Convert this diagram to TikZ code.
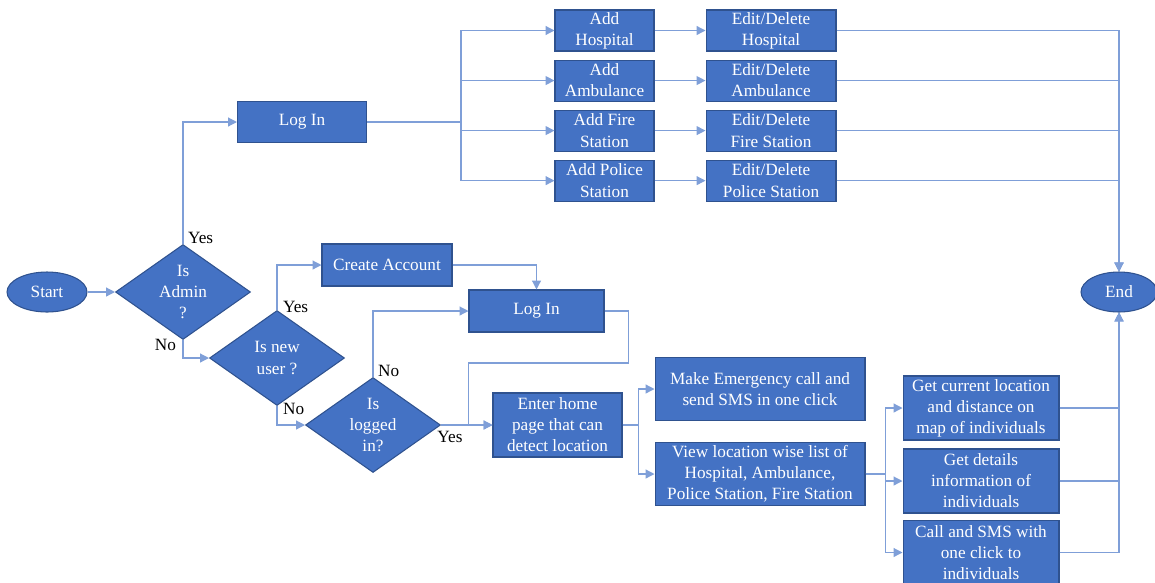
\documentclass[tikz,border=0pt]{standalone}
\usepackage{fontspec}
\setmainfont{Liberation Serif}
\usetikzlibrary{shapes.geometric,arrows.meta,positioning,calc}
\definecolor{boxblue}{HTML}{4472C4}
\definecolor{boxedge}{HTML}{2F528F}
\definecolor{wireblue}{HTML}{7F9FD8}
\tikzset{
    proc/.style={rectangle,draw=boxedge,line width=0.6pt,fill=boxblue,text=white,
                 align=center,inner sep=1pt,font=\fontsize{9.8}{12}\selectfont},
    decision/.style={diamond,draw=boxedge,line width=0.6pt,fill=boxblue,text=white,
                 align=center,inner sep=0pt,aspect=1.42,minimum width=2.7cm,
                 minimum height=1.9cm,font=\fontsize{9.8}{12}\selectfont},
    terminal/.style={ellipse,draw=boxedge,line width=0.6pt,fill=boxblue,text=white,
                 inner sep=0pt,minimum height=0.8cm,font=\fontsize{9.8}{12}\selectfont},
    lbl/.style={text=black,inner sep=1pt,font=\fontsize{9.8}{12}\selectfont},
    arrow/.style={-{Triangle[length=5pt,width=5pt]},draw=wireblue,line width=0.7pt},
}

\begin{document}
\begin{tikzpicture}[x=0.02cm,y=-0.02cm]
    \useasboundingbox (0,0) rectangle (1155,582);

    % ---- start / decisions ----
    \node[terminal, minimum width=1.6cm] (start) at (47,292) {Start};
    \node[decision] (admin)   at (183,292) {Is\\Admin\\?};
    \node[decision] (newuser) at (277,358) {Is new\\user ?};
    \node[decision] (logged)  at (373,425) {Is\\logged\\in?};

    % ---- admin branch ----
    \node[proc, minimum width=2.58cm, minimum height=0.82cm] (loginA) at (302,122) {Log In};
    \node[proc, minimum width=1.98cm, minimum height=0.82cm] (addH) at (604.5,30.5) {Add\\Hospital};
    \node[proc, minimum width=1.98cm, minimum height=0.82cm, below=0.16cm of addH] (addA) {Add\\Ambulance};
    \node[proc, minimum width=1.98cm, minimum height=0.82cm, below=0.16cm of addA] (addF) {Add Fire\\Station};
    \node[proc, minimum width=1.98cm, minimum height=0.82cm, below=0.16cm of addF] (addP) {Add Police\\Station};
    \node[proc, minimum width=2.6cm, minimum height=0.82cm, right=1.02cm of addH] (editH) {Edit/Delete\\Hospital};
    \node[proc, minimum width=2.6cm, minimum height=0.82cm, right=1.02cm of addA] (editA) {Edit/Delete\\Ambulance};
    \node[proc, minimum width=2.6cm, minimum height=0.82cm, right=1.02cm of addF] (editF) {Edit/Delete\\Fire Station};
    \node[proc, minimum width=2.6cm, minimum height=0.82cm, right=1.02cm of addP] (editP) {Edit/Delete\\Police Station};

    % ---- user branch ----
    \node[proc, minimum width=2.6cm, minimum height=0.84cm] (create) at (387,265) {Create Account};
    \node[proc, minimum width=2.7cm, minimum height=0.84cm] (loginU) at (536.5,311) {Log In};
    \node[proc, minimum width=2.58cm, minimum height=1.28cm] (home) at (557.5,425) {Enter home\\page that can\\detect location};
    \node[proc, minimum width=4.2cm, minimum height=1.26cm] (sos)  at (760,389) {Make Emergency call and\\send SMS in one click};
    \node[proc, minimum width=4.2cm, minimum height=1.26cm] (view) at (760,474) {View location wise list of\\Hospital, Ambulance,\\Police Station, Fire Station};
    \node[proc, minimum width=3.12cm, minimum height=1.28cm] (getloc) at (981,408) {Get current location\\and distance on\\map of individuals};
    \node[proc, minimum width=3.12cm, minimum height=1.28cm] (getinfo) at (981,481) {Get details\\information of\\individuals};
    \node[proc, minimum width=3.12cm, minimum height=1.28cm] (callsms) at (981,552.5) {Call and SMS with\\one click to\\individuals};

    \node[terminal, minimum width=1.52cm] (end) at (1119,292) {End};

    % ---- labels ----
    \node[lbl, anchor=south west] at ($(admin.north)+(3,2)$) {Yes};
    \node[lbl, anchor=north east] at ($(admin.south)+(-5,-3)$) {No};
    \node[lbl, anchor=west] at ($(newuser.north)+(4,-3)$) {Yes};
    \node[lbl, anchor=north west] at ($(newuser.south)+(4,-5)$) {No};
    \node[lbl, anchor=south west] at ($(logged.north)+(3,2)$) {No};
    \node[lbl, anchor=north] at ($(logged.east)+(9,4)$) {Yes};

    % ---- connectors ----
    \draw[arrow] (start) -- (admin);
    \draw[arrow] (admin.north) |- (loginA.west);
    \draw[arrow] (admin.south) |- (newuser.west);
    \draw[arrow] (newuser.north) |- (create.west);
    \draw[arrow] (newuser.south) |- (logged.west);
    \draw[arrow] (logged.north) |- (loginU.west);
    \draw[arrow] (create.east) -| (loginU.north);
    \draw[arrow] (logged.east) -- (home.west);
    \coordinate (merge) at ($(home.west)+(-24,0)$);
    \draw[arrow] (loginU.east) -- ++(24,0) -- ++(0,52) -| (merge) -- (home.west);

    \foreach \n in {addH,addA,addF,addP}
        \draw[arrow] (loginA.east) -- ++(94,0) |- (\n.west);
    \foreach \a/\e in {addH/editH,addA/editA,addF/editF,addP/editP}
        \draw[arrow] (\a) -- (\e);
    \foreach \e in {editH,editA,editF,editP}
        \draw[arrow] (\e.east) -| (end.north);

    \draw[arrow] (home.east) -- ++(16,0) |- (sos.west);
    \draw[arrow] (home.east) -- ++(16,0) |- (view.west);
    \foreach \n in {getloc,getinfo,callsms}
        \draw[arrow] (view.east) -- ++(20,0) |- (\n.west);
    \foreach \n in {getloc,getinfo,callsms}
        \draw[arrow] (\n.east) -| (end.south);

\end{tikzpicture}
\end{document}
